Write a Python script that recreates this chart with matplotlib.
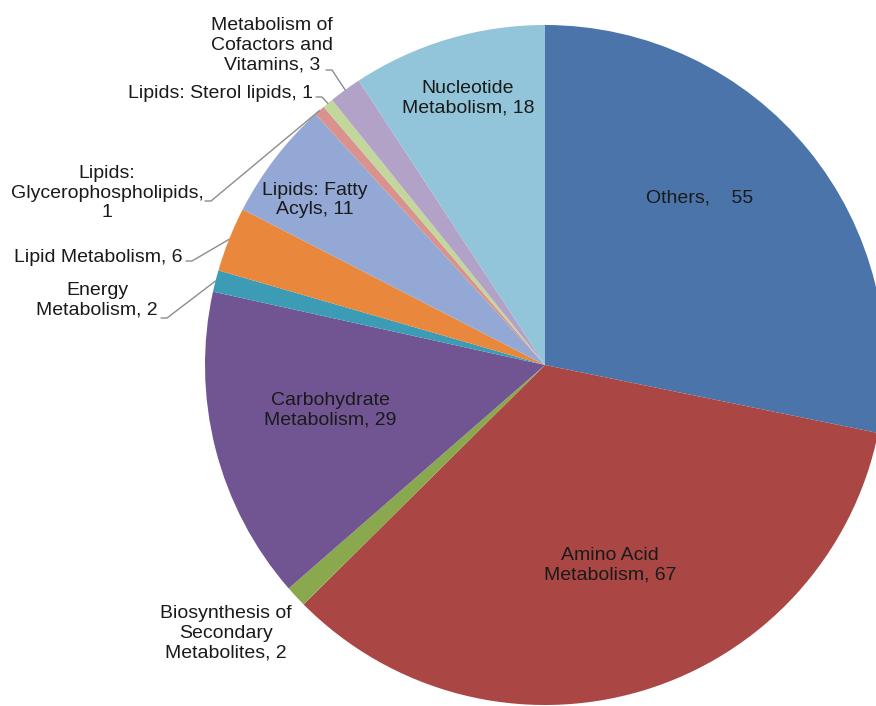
import numpy as np
import matplotlib.pyplot as plt

plt.rcParams['font.family'] = ['Liberation Sans', 'DejaVu Sans']

# --- data ---
categories = [
    "Others", "Amino Acid\nMetabolism", "Biosynthesis of\nSecondary\nMetabolites",
    "Carbohydrate\nMetabolism", "Energy\nMetabolism", "Lipid Metabolism",
    "Lipids: Fatty\nAcyls", "Lipids:\nGlycerophospholipids,\n", "Lipids: Sterol lipids",
    "Metabolism of\nCofactors and\nVitamins", "Nucleotide\nMetabolism",
]
values = [55, 67, 2, 29, 2, 6, 11, 1, 1, 3, 18]
colors = ["#4A74AA", "#AA4644", "#8AA84E", "#705592", "#3C9BB5", "#E9883C",
          "#93A8D4", "#D9928E", "#C3D69B", "#B3A2C7", "#92C5DA"]

W, H = 876, 706
CX, CY, R = 545, H - 365, 340

# label centre (pixel coords, y down), and leader start for outside labels
label_pos = {
    0: (700, 198), 1: (610, 565), 2: (226, 633), 3: (330, 410),
    4: (97, 300), 5: (98, 257), 6: (315, 200), 7: (107, 193),
    8: (220, 93), 9: (272, 45), 10: (468, 98),
}
leader_start = {4: (161, 318), 5: (186, 261), 7: (205, 201), 8: (316, 97), 9: (326, 70)}

fig = plt.figure(figsize=(W / 100, H / 100), dpi=100)
ax = fig.add_axes([0, 0, 1, 1])

wedges, _ = ax.pie(values, colors=colors, startangle=90, counterclock=False,
                   center=(CX, CY), radius=R, wedgeprops=dict(linewidth=0))
ax.set_xlim(0, W)
ax.set_ylim(0, H)
ax.set_aspect('equal')
ax.axis('off')

for i, (name, val) in enumerate(zip(categories, values)):
    if name.endswith(",\n"):
        text = f"{name}{val}"
    elif i == 0:
        text = f"{name},    {val}"
    else:
        text = f"{name}, {val}"
    px, py = label_pos[i]
    ax.text(px, H - py, text, ha='center', va='center', fontsize=14,
            color='#1a1a1a', linespacing=1.22)

    if i in leader_start:
        w = wedges[i]
        mid = np.deg2rad((w.theta1 + w.theta2) / 2)
        ex, ey = CX + R * np.cos(mid), CY + R * np.sin(mid)
        sx, sy = leader_start[i]
        sy = H - sy
        ax.plot([sx, sx + 6, ex], [sy, sy, ey], color='#8c8c8c', lw=1.0,
                solid_capstyle='round')

fig.savefig('out.png', dpi=100)
